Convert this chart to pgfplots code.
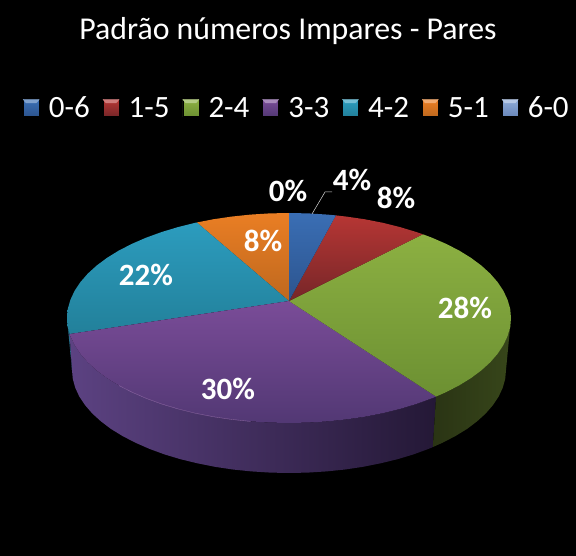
\documentclass[border=0pt]{standalone}
\usepackage{fontspec}
\setmainfont{Carlito}
\usepackage{pgfplots}
\usepackage{pgfplotstable}
\pgfplotsset{compat=1.18}

\definecolor{blueT}{RGB}{58,110,180}\definecolor{blueB}{RGB}{44,84,142}
\definecolor{redT}{RGB}{182,54,52}\definecolor{redB}{RGB}{118,38,40}
\definecolor{greenT}{RGB}{140,176,66}\definecolor{greenB}{RGB}{108,144,50}
\definecolor{purpT}{RGB}{122,76,152}\definecolor{purpB}{RGB}{82,56,116}
\definecolor{tealT}{RGB}{44,156,190}\definecolor{tealB}{RGB}{34,128,154}
\definecolor{orngT}{RGB}{234,126,36}\definecolor{orngB}{RGB}{190,104,30}
\definecolor{purpSL}{RGB}{92,66,130}\definecolor{purpSM}{RGB}{52,36,78}\definecolor{purpSR}{RGB}{36,24,54}
\definecolor{greenSL}{RGB}{42,52,20}\definecolor{greenSR}{RGB}{55,70,26}
\definecolor{tealS}{RGB}{36,110,140}
\definecolor{lblueT}{RGB}{142,170,215}\definecolor{lblueB}{RGB}{105,135,185}

\pgfplotsset{
  swatch/.style 2 args={legend image code/.code={
    \shade[top color=#1,bottom color=#2] (0pt,-8.5pt) rectangle (16pt,8.5pt);
    \fill[#1!65!white] (0pt,8.5pt) -- (16pt,8.5pt) -- (13pt,5pt) -- (3pt,5pt) -- cycle;
  }},
}

% top faces, image pixels
\pgfplotstableread[row sep=\\]{x y\\
289 301\\ 289 213\\ 308.4 213.4\\ 327.5 214.6\\ 335.9 215.4\\ 289 301\\
}\tblBlue
\pgfplotstableread[row sep=\\]{x y\\
289 301\\ 335.9 215.4\\ 346.5 216.6\\ 364.9 219.3\\ 382.8 222.8\\ 400 227.1\\ 416.3 232\\ 422.9 234.3\\ 289 301\\
}\tblRed
\pgfplotstableread[row sep=\\]{x y\\
289 301\\ 422.9 234.3\\ 431.7 237.6\\ 446 243.8\\ 459.1 250.5\\ 470.9 257.8\\ 481.3 265.5\\ 490.2 273.6\\ 497.6 282.1\\ 503.4 290.8\\ 507.6 299.8\\ 510.2 308.8\\ 511 318\\ 510.2 327.2\\ 507.6 336.2\\ 503.4 345.2\\ 497.6 353.9\\ 490.2 362.4\\ 481.3 370.5\\ 470.9 378.2\\ 459.1 385.5\\ 446 392.2\\ 436.1 396.6\\ 289 301\\
}\tblGreen
\pgfplotstableread[row sep=\\]{x y\\
289 301\\ 436.1 396.6\\ 431.7 398.4\\ 416.3 404\\ 400 408.9\\ 382.8 413.2\\ 364.9 416.7\\ 346.5 419.4\\ 327.5 421.4\\ 308.4 422.6\\ 289 423\\ 269.6 422.6\\ 250.5 421.4\\ 231.5 419.4\\ 213.1 416.7\\ 195.2 413.2\\ 178 408.9\\ 161.7 404\\ 146.3 398.4\\ 132 392.2\\ 118.9 385.5\\ 107.1 378.2\\ 96.7 370.5\\ 87.8 362.4\\ 80.4 353.9\\ 74.6 345.2\\ 70.4 336.2\\ 69.6 334\\ 289 301\\
}\tblPurple
\pgfplotstableread[row sep=\\]{x y\\
289 301\\ 69.6 334\\ 67.8 327.2\\ 67 318\\ 67.8 308.8\\ 70.4 299.8\\ 74.6 290.8\\ 80.4 282.1\\ 87.8 273.6\\ 96.7 265.5\\ 107.1 257.8\\ 118.9 250.5\\ 132 243.8\\ 146.3 237.6\\ 161.7 232\\ 178 227.1\\ 195.2 222.8\\ 196.9 222.5\\ 289 301\\
}\tblTeal
\pgfplotstableread[row sep=\\]{x y\\
289 301\\ 196.9 222.5\\ 213.1 219.3\\ 231.5 216.6\\ 250.5 214.6\\ 269.6 213.4\\ 289 213\\ 289 301\\
}\tblOrange
% side faces
\pgfplotstableread[row sep=\\]{x y\\
436.1 396.6\\ 446 392.2\\ 459.1 385.5\\ 470.9 378.2\\ 481.3 370.5\\ 490.2 362.4\\ 497.6 353.9\\ 503.4 345.2\\ 507.6 336.2\\ 510.2 327.2\\ 511 318\\ 506 370\\ 505.2 379\\ 502.7 387.9\\ 498.6 396.7\\ 492.9 405.2\\ 485.7 413.5\\ 476.9 421.5\\ 466.8 429.1\\ 455.2 436.2\\ 442.4 442.8\\ 432.8 447.1\\ 436.1 396.6\\
}\tblGreenSide
\pgfplotstableread[row sep=\\]{x y\\
69.6 334\\ 70.4 336.2\\ 74.6 345.2\\ 80.4 353.9\\ 87.8 362.4\\ 96.7 370.5\\ 107.1 378.2\\ 118.9 385.5\\ 132 392.2\\ 146.3 398.4\\ 161.7 404\\ 178 408.9\\ 195.2 413.2\\ 213.1 416.7\\ 231.5 419.4\\ 250.5 421.4\\ 269.6 422.6\\ 289 423\\ 308.4 422.6\\ 327.5 421.4\\ 346.5 419.4\\ 364.9 416.7\\ 382.8 413.2\\ 400 408.9\\ 416.3 404\\ 431.7 398.4\\ 436.1 396.6\\ 432.8 447.1\\ 428.5 448.9\\ 413.5 454.4\\ 397.5 459.2\\ 380.7 463.3\\ 363.2 466.8\\ 345.2 469.5\\ 326.7 471.4\\ 307.9 472.6\\ 289 473\\ 270.1 472.6\\ 251.3 471.4\\ 232.8 469.5\\ 214.8 466.8\\ 197.3 463.3\\ 180.5 459.2\\ 164.5 454.4\\ 149.5 448.9\\ 135.6 442.8\\ 122.8 436.2\\ 111.2 429.1\\ 101.1 421.5\\ 92.3 413.5\\ 85.1 405.2\\ 79.4 396.7\\ 75.3 387.9\\ 72.8 379\\ 72 370\\ 69.6 334\\
}\tblPurpleSide
\pgfplotstableread[row sep=\\]{x y\\
67 318\\ 67.8 327.2\\ 69.6 334\\ 72 370\\ 67 318\\
}\tblTealSide
% light edge along the purple rim
\pgfplotstableread[row sep=\\]{x y\\
118.9 385.5\\ 132 392.2\\ 146.3 398.4\\ 161.7 404\\ 178 408.9\\ 195.2 413.2\\ 213.1 416.7\\ 231.5 419.4\\ 250.5 421.4\\
}\tblRim

\begin{document}
\begin{tikzpicture}
\begin{axis}[
    scale only axis,
    width=576pt,
    height=556pt,
    xmin=0,xmax=576,
    ymin=0,ymax=556,
    y dir=reverse,
    ticks=none,
    axis line style={draw=none},
    axis background/.style={fill=black},
    legend columns=7,
    legend style={
        at={(axis cs:23,108)},anchor=west,
        draw=none,fill=none,text=white,
        font=\fontsize{31}{34}\selectfont,
        inner sep=0pt,outer sep=0pt,
        /tikz/every odd column/.append style={column sep=7.5pt},
        /tikz/every even column/.append style={column sep=11pt},
    },
]

% sides
\addplot[forget plot,no markers,draw=none,fill=tealS] table {\tblTealSide};
\addplot[forget plot,no markers,draw=none,left color=purpSL,middle color=purpSM,right color=purpSR,shade] table {\tblPurpleSide};
\addplot[forget plot,no markers,draw=none,left color=greenSL,right color=greenSR,shade] table {\tblGreenSide};

% top
\addplot[forget plot,no markers,draw=none,top color=orngT,bottom color=orngB,shade] table {\tblOrange};
\addplot[forget plot,no markers,draw=none,top color=tealT,bottom color=tealB,shade] table {\tblTeal};
\addplot[forget plot,no markers,draw=none,top color=purpT,bottom color=purpB,shade] table {\tblPurple};
\addplot[forget plot,no markers,draw=none,top color=greenT,bottom color=greenB,shade] table {\tblGreen};
\addplot[forget plot,no markers,draw=none,top color=redT,bottom color=redB,shade] table {\tblRed};
\addplot[forget plot,no markers,draw=none,top color=blueT,bottom color=blueB,shade] table {\tblBlue};
\addplot[forget plot,no markers,line width=0.4pt,color=purpT!85!white] table {\tblRim};

% leader line of the 0% label
\addplot[forget plot,no markers,line width=0.5pt,color=white!85!black] coordinates {(312,214) (325,192) (332,192)};

% legend
\addlegendimage{swatch={blueT}{blueB}}\addlegendentry{0-6}
\addlegendimage{swatch={redT}{redB}}\addlegendentry{1-5}
\addlegendimage{swatch={greenT}{greenB}}\addlegendentry{2-4}
\addlegendimage{swatch={purpT}{purpB}}\addlegendentry{3-3}
\addlegendimage{swatch={tealT}{tealB}}\addlegendentry{4-2}
\addlegendimage{swatch={orngT}{orngB}}\addlegendentry{5-1}
\addlegendimage{swatch={lblueT}{lblueB}}\addlegendentry{6-0}

\node[text=white,font=\fontsize{31.8}{38}\selectfont] at (axis cs:288,31) {Padrão números Impares - Pares};

\tikzset{lab/.style={text=white,font=\fontsize{31}{36}\selectfont\bfseries}}
\node[lab] at (axis cs:288,191) {0\%};
\node[lab] at (axis cs:352,180) {4\%};
\node[lab] at (axis cs:396,198) {8\%};
\node[lab] at (axis cs:263,241) {8\%};
\node[lab] at (axis cs:146,275) {22\%};
\node[lab] at (axis cs:465,308) {28\%};
\node[lab] at (axis cs:228,389) {30\%};
\end{axis}
\end{tikzpicture}
\end{document}
